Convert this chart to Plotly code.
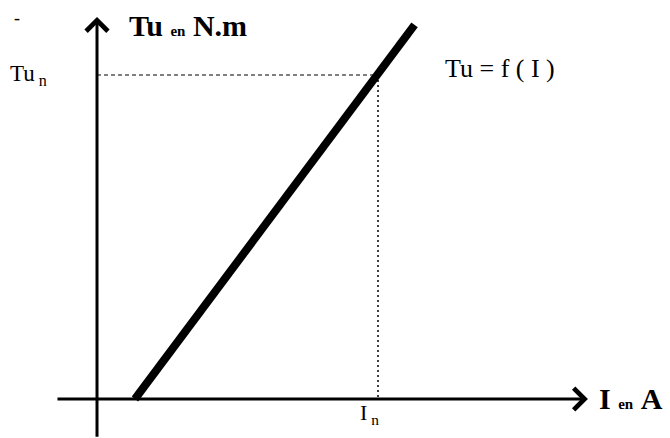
import plotly.graph_objects as go

# characteristic Tu = f(I), straight line
current = [1.35, 11.3]      # I (A)
torque = [0.0, 11.55]       # Tu (N.m)

# nominal point
i_nom = 10.0
tu_nom = 10.0

# axis extents (arrow tail / tip)
x_axis = [-1.46, 17.47]
y_axis = [-1.21, 11.79]

serif = 'Liberation Serif'


def build_figure() -> go.Figure:
    fig = go.Figure()

    # dashed guide from the Tu axis to the nominal point
    fig.add_trace(go.Scatter(
            x = [0, i_nom],
            y = [tu_nom, tu_nom],
            mode = 'lines',
            line = dict(color = 'black', width = 1, dash = '4px,3px'),
            hoverinfo = 'skip'
        )
    )

    # dotted guide down to the I axis
    fig.add_trace(go.Scatter(
            x = [i_nom, i_nom],
            y = [tu_nom, 0],
            mode = 'lines',
            line = dict(color = 'black', width = 1.5, dash = '2px,3px'),
            hoverinfo = 'skip'
        )
    )

    # the characteristic itself
    fig.add_trace(go.Scatter(
            x = current,
            y = torque,
            mode = 'lines',
            line = dict(color = 'black', width = 8),
            hoverinfo = 'skip'
        )
    )

    # axes drawn as arrows
    fig.add_annotation(x = x_axis[1], y = 0, ax = x_axis[0], ay = 0,
                       xref = 'x', yref = 'y', axref = 'x', ayref = 'y',
                       text = '', showarrow = True, arrowhead = 4,
                       arrowsize = 1.4, arrowwidth = 3, arrowcolor = 'black')
    fig.add_annotation(x = 0, y = y_axis[1], ax = 0, ay = y_axis[0],
                       xref = 'x', yref = 'y', axref = 'x', ayref = 'y',
                       text = '', showarrow = True, arrowhead = 4,
                       arrowsize = 1.4, arrowwidth = 3, arrowcolor = 'black')

    # labels
    small = '<span style="font-size:15px"><b>en</b></span>'
    labels = [
        (1.07, 11.54, '<b>Tu</b> ' + small + ' <b>N.m</b>', 30, 'left'),
        (12.31, 10.2, 'Tu = f ( I )', 26, 'left'),
        (-3.17, tu_nom, 'Tu<sub> n</sub>', 23, 'left'),
        (i_nom - 0.3, -0.45, 'I<sub> n</sub>', 22, 'center'),
        (17.79, 0, '<b>I</b> ' + small + ' <b>A</b>', 30, 'left'),
        (-3.02, 11.76, '-', 18, 'left'),
    ]
    for x, y, text, size, anchor in labels:
        fig.add_annotation(x = x, y = y, xref = 'x', yref = 'y', text = text,
                           showarrow = False, xanchor = anchor, yanchor = 'middle',
                           font = dict(family = serif, size = size, color = 'black'))

    fig.update_layout(
            autosize = False,
            width = 670,
            height = 438,
            margin = dict(l = 0, r = 0, t = 0, b = 0),
            paper_bgcolor = 'white',
            plot_bgcolor = 'white',
            showlegend = False,
            xaxis = dict(range = [-3.452, 20.39], visible = False, fixedrange = True),
            yaxis = dict(range = [-1.204, 12.315], visible = False, fixedrange = True),
        )
    return fig


fig = build_figure()
# no default body margin, so the figure sits at the window's corner
fig.write_html("out.html", config = {'displayModeBar': False},
               post_script = "document.body.style.margin = '0';")
